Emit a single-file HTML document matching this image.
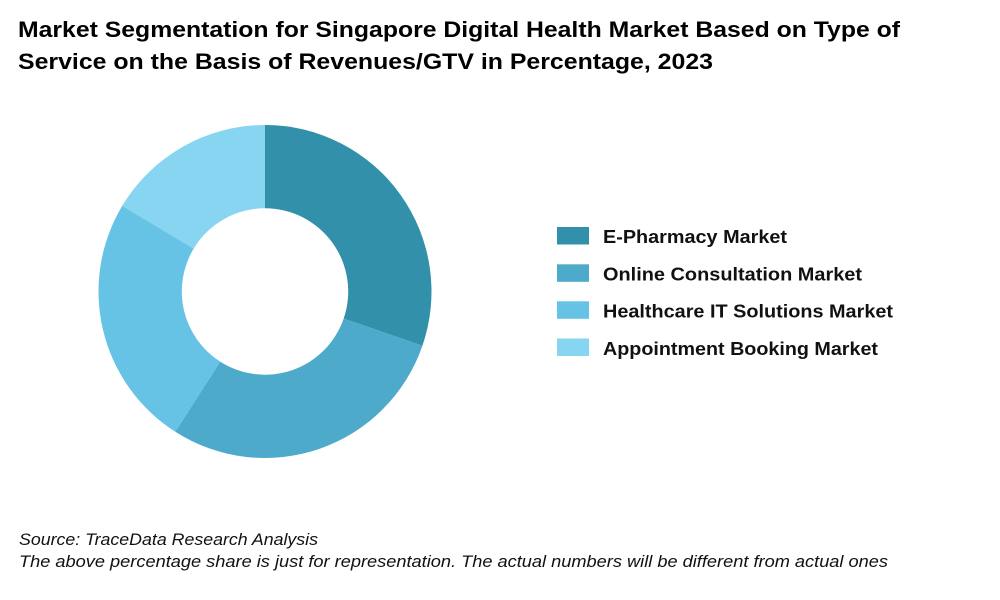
<!DOCTYPE html>
<html>
<head>
<meta charset="utf-8">
<style>
  html, body { margin: 0; padding: 0; background: #ffffff; }
  svg { display: block; }
</style>
</head>
<body>
<svg width="1000" height="600" viewBox="0 0 1000 600" xmlns="http://www.w3.org/2000/svg">
  <rect width="1000" height="600" fill="#ffffff"/>
  <g font-family="'Liberation Sans', Arial, sans-serif" fill="#000000">
    <text x="18" y="37" font-size="22" font-weight="bold" textLength="882" lengthAdjust="spacingAndGlyphs">Market Segmentation for Singapore Digital Health Market Based on Type of</text>
    <text x="18" y="69" font-size="22" font-weight="bold" textLength="695" lengthAdjust="spacingAndGlyphs">Service on the Basis of Revenues/GTV in Percentage, 2023</text>
  </g>

  <!-- Donut -->
  <path d="M265,125 A166.5,166.5 0 0 1 422.43,345.71 L343.67,318.59 A83.2,83.2 0 0 0 265,208.3 Z" fill="#3390AA"/>
  <path d="M422.43,345.71 A166.5,166.5 0 0 1 175.30,431.77 L220.17,361.59 A83.2,83.2 0 0 0 343.67,318.59 Z" fill="#4DAACA"/>
  <path d="M175.30,431.77 A166.5,166.5 0 0 1 122.28,205.75 L193.68,248.65 A83.2,83.2 0 0 0 220.17,361.59 Z" fill="#67C3E5"/>
  <path d="M122.28,205.75 A166.5,166.5 0 0 1 265,125 L265,208.3 A83.2,83.2 0 0 0 193.68,248.65 Z" fill="#87D5F0"/>

  <!-- Legend -->
  <rect x="557" y="227" width="32" height="17.5" fill="#3390AA"/>
  <rect x="557" y="264.3" width="32" height="17.5" fill="#4DAACA"/>
  <rect x="557" y="301.3" width="32" height="17.5" fill="#67C3E5"/>
  <rect x="557" y="338.5" width="32" height="17.5" fill="#87D5F0"/>
  <g font-family="'Liberation Sans', Arial, sans-serif" font-size="18.5" font-weight="bold" fill="#111111">
    <text x="603" y="243" textLength="184" lengthAdjust="spacingAndGlyphs">E-Pharmacy Market</text>
    <text x="603" y="280.3" textLength="259" lengthAdjust="spacingAndGlyphs">Online Consultation Market</text>
    <text x="603" y="317.5" textLength="290" lengthAdjust="spacingAndGlyphs">Healthcare IT Solutions Market</text>
    <text x="603" y="354.8" textLength="275" lengthAdjust="spacingAndGlyphs">Appointment Booking Market</text>
  </g>

  <!-- Footer -->
  <g font-family="'Liberation Sans', Arial, sans-serif" font-size="17" font-style="italic" fill="#111111">
    <text x="19" y="545" textLength="299" lengthAdjust="spacingAndGlyphs">Source: TraceData Research Analysis</text>
    <text x="19" y="567" textLength="869" lengthAdjust="spacingAndGlyphs">The above percentage share is just for representation. The actual numbers will be different from actual ones</text>
  </g>
</svg>
</body>
</html>
